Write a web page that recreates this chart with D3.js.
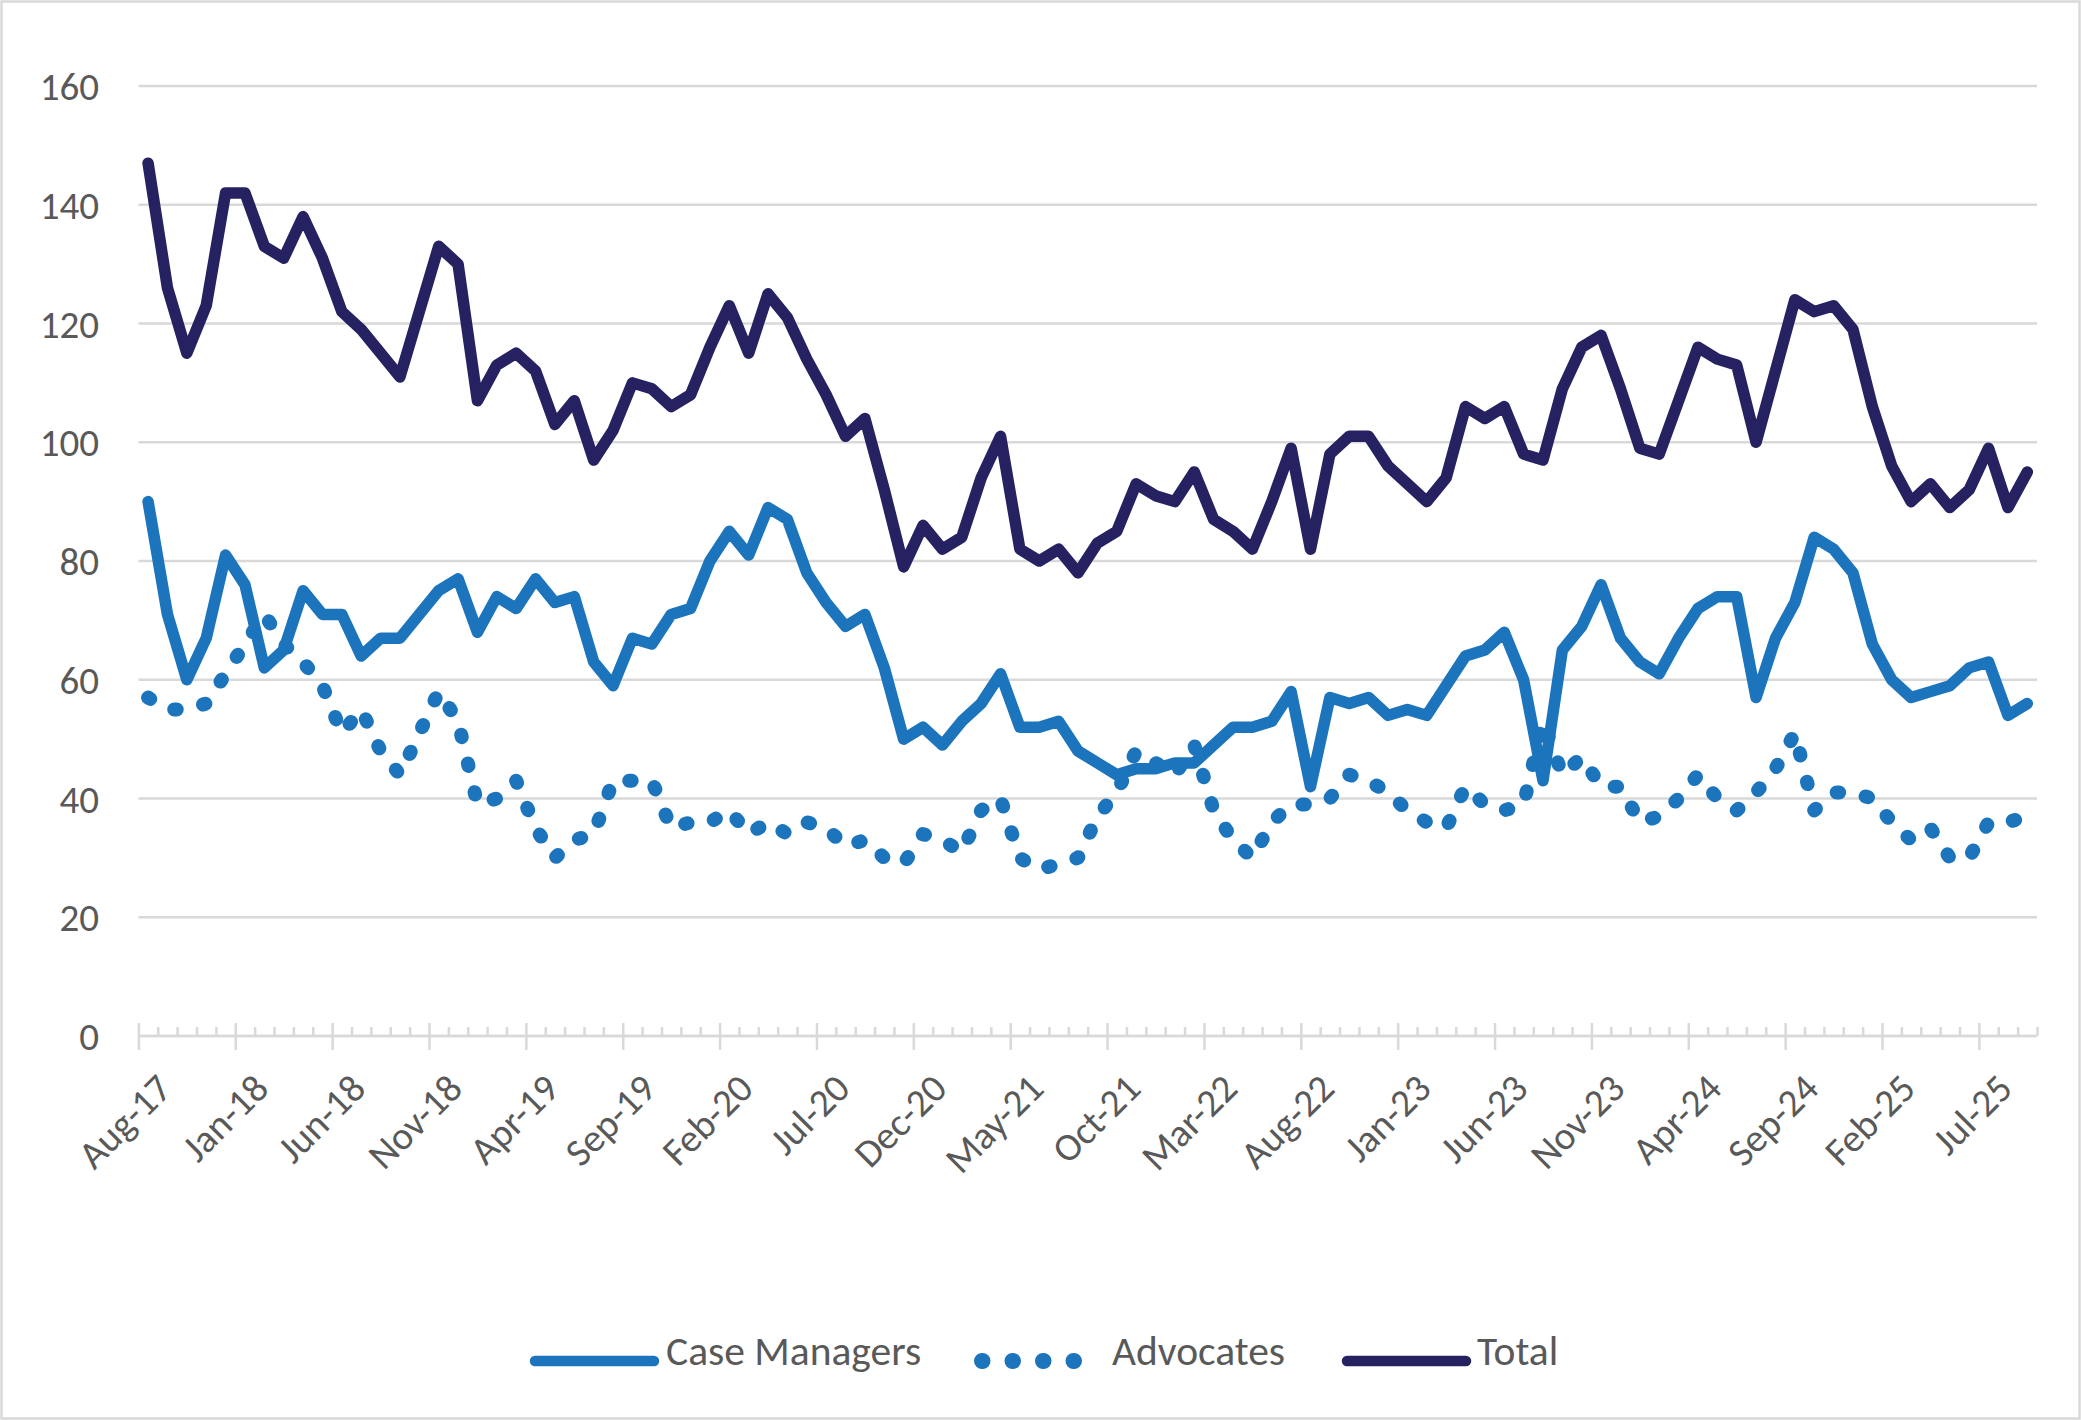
<!DOCTYPE html>
<html>
<head>
<meta charset="utf-8">
<script src="https://cdn.jsdelivr.net/npm/d3@7"></script>
<style>
  body { margin: 0; background: #fff; }
  text { font-family: Calibri, Carlito, Lato, sans-serif; fill: #595959; }
</style>
</head>
<body>
<div id="chart"></div>
<script>
// monthly, Aug-17 .. Sep-25
var months = []
var monthNames = ["Jan", "Feb", "Mar", "Apr", "May", "Jun", "Jul", "Aug", "Sep", "Oct", "Nov", "Dec"]
for (var m = 0; m < 98; m++) {
  var mi = (7 + m) % 12
  var yy = 17 + Math.floor((7 + m) / 12)
  months.push(monthNames[mi] + "-" + yy)
}

var caseManagers = [90, 71, 60, 67, 81, 76, 62, 65, 75, 71, 71, 64, 67, 67, 71, 75, 77, 68, 74, 72,
  77, 73, 74, 63, 59, 67, 66, 71, 72, 80, 85, 81, 89, 87, 78, 73, 69, 71, 62, 50,
  52, 49, 53, 56, 61, 52, 52, 53, 48, 46, 44, 45, 45, 46, 46, 49, 52, 52, 53, 58,
  42, 57, 56, 57, 54, 55, 54, 59, 64, 65, 68, 60, 43, 65, 69, 76, 67, 63, 61, 67,
  72, 74, 74, 57, 67, 73, 84, 82, 78, 66, 60, 57, 58, 59, 62, 63, 54, 56]

var advocates = [57, 55, 55, 56, 61, 66, 71, 66, 63, 59, 51, 55, 48, 44, 51, 58, 53, 39, 40, 43,
  35, 30, 33, 34, 43, 43, 43, 35, 36, 36, 38, 34, 36, 34, 36, 35, 32, 33, 30, 29,
  34, 33, 31, 38, 40, 30, 28, 29, 30, 37, 41, 48, 46, 44, 49, 38, 33, 30, 36, 39,
  39, 40, 44, 43, 41, 38, 36, 35, 42, 39, 38, 39, 53, 44, 47, 42, 42, 36, 37, 40,
  44, 40, 38, 41, 45, 51, 38, 41, 41, 40, 36, 33, 35, 30, 30, 36, 36, 37]

var total = [147, 126, 115, 123, 142, 142, 133, 131, 138, 131, 122, 119, 115, 111, 122, 133, 130, 107, 113, 115,
  112, 103, 107, 97, 102, 110, 109, 106, 108, 116, 123, 115, 125, 121, 114, 108, 101, 104, 92, 79,
  86, 82, 84, 94, 101, 82, 80, 82, 78, 83, 85, 93, 91, 90, 95, 87, 85, 82, 90, 99,
  82, 98, 101, 101, 96, 93, 90, 94, 106, 104, 106, 98, 97, 109, 116, 118, 109, 99, 98, 107,
  116, 114, 113, 100, 112, 124, 122, 123, 119, 106, 96, 90, 93, 89, 92, 99, 89, 95]

var yTicks = [0, 20, 40, 60, 80, 100, 120, 140, 160]

var series = [
  { name: "Case Managers", values: caseManagers, color: "#1c75bc", dash: null, width: 11.5 },
  { name: "Advocates", values: advocates, color: "#1c75bc", dash: "2.5,27", width: 14 },
  { name: "Total", values: total, color: "#262262", dash: null, width: 11.5 }
]

var W = 2081, H = 1420
var plot = { left: 138.4, right: 2037, top: 86, bottom: 1036 }

var svg = d3.select("#chart").append("svg")
  .attr("width", W)
  .attr("height", H)

svg.append("rect")
  .attr("x", 1.5).attr("y", 1.5)
  .attr("width", W - 3).attr("height", H - 3)
  .attr("fill", "#fff")
  .attr("stroke", "#d9d9d9")
  .attr("stroke-width", 2.5)

var x = d3.scalePoint()
  .domain(months)
  .range([plot.left, plot.right])
  .padding(0.5)

var y = d3.scaleLinear()
  .domain([0, 160])
  .range([plot.bottom, plot.top])

// category boundaries for the tick marks
var edge = d3.scaleLinear()
  .domain([0, months.length])
  .range([plot.left, plot.right])

// gridlines
svg.append("g")
  .selectAll("line")
  .data(yTicks.filter(function (d) { return d > 0 }))
  .join("line")
    .attr("x1", plot.left)
    .attr("x2", plot.right)
    .attr("y1", function (d) { return y(d) })
    .attr("y2", function (d) { return y(d) })
    .attr("stroke", "#d9d9d9")
    .attr("stroke-width", 2.5)

// y labels
svg.append("g")
  .selectAll("text")
  .data(yTicks)
  .join("text")
    .attr("x", 99)
    .attr("y", function (d) { return y(d) })
    .attr("dy", "0.36em")
    .attr("text-anchor", "end")
    .attr("font-size", 39)
    .text(function (d) { return d })

// x axis: minor ticks inside, major ticks crossing
var majors = d3.range(0, months.length, 5)
var minors = d3.range(0, months.length + 1).filter(function (k) { return k % 5 !== 0 || k === months.length })

var axisG = svg.append("g")
  .attr("transform", "translate(0," + plot.bottom + ")")

axisG.call(d3.axisTop(edge).tickValues(minors).tickSize(9).tickFormat(""))
axisG.call(function (g) {
  g.append("g").call(d3.axisBottom(edge).tickValues(majors).tickSize(14).tickFormat(""))
    .selectAll(".tick line").attr("y1", -13)
})
axisG.selectAll(".domain").attr("d", "M" + plot.left + ",0H" + plot.right)
axisG.selectAll("path, line")
  .attr("stroke", "#d9d9d9")
  .attr("stroke-width", 2.5)

svg.append("g")
  .selectAll("text")
  .data(majors)
  .join("text")
    .attr("transform", function (k) {
      return "translate(" + (x(months[k]) + 6) + ",1071) rotate(-45)"
    })
    .attr("dy", "0.72em")
    .attr("text-anchor", "end")
    .attr("font-size", 39)
    .text(function (k) { return months[k] })

// lines
var line = d3.line()
  .x(function (d, i) { return x(months[i]) })
  .y(function (d) { return y(d) })

svg.append("g")
  .selectAll("path")
  .data(series)
  .join("path")
    .attr("d", function (s) { return line(s.values) })
    .attr("fill", "none")
    .attr("stroke", function (s) { return s.color })
    .attr("stroke-width", function (s) { return s.width })
    .attr("stroke-linejoin", "round")
    .attr("stroke-linecap", "round")
    .attr("stroke-dasharray", function (s) { return s.dash })

// legend
var legendItems = [
  { s: series[0], x1: 535, x2: 654, tx: 666 },
  { s: series[1], x1: 982, x2: 1074, tx: 1112 },
  { s: series[2], x1: 1347, x2: 1466, tx: 1477 }
]
var legend = svg.append("g")
legendItems.forEach(function (it) {
  legend.append("line")
    .attr("x1", it.x1).attr("x2", it.x2)
    .attr("y1", 1361).attr("y2", 1361)
    .attr("stroke", it.s.color)
    .attr("stroke-width", it.s.dash ? 16 : 10.5)
    .attr("stroke-linecap", "round")
    .attr("stroke-dasharray", it.s.dash ? "0.5,30" : null)
  legend.append("text")
    .attr("x", it.tx)
    .attr("y", 1365)
    .attr("font-size", 41.5)
    .text(it.s.name)
})
</script>
</body>
</html>
